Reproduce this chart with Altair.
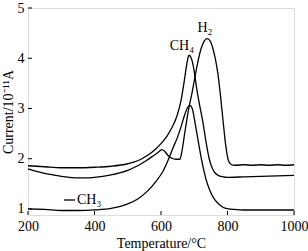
import altair as alt
import pandas as pd

# H2 series
h2_t = [200, 225, 250, 275, 300, 325, 350, 375, 400, 450, 500, 530, 555, 575, 590, 603, 612, 622, 633, 645, 657, 663, 670, 677, 685, 693, 700, 710, 720, 730, 738, 746, 755, 763, 771, 779, 787, 795, 802, 810, 820, 850, 875, 900, 925, 950, 975, 1000]
h2_v = [1.80, 1.75, 1.71, 1.68, 1.65, 1.63, 1.62, 1.62, 1.63, 1.68, 1.77, 1.86, 1.96, 2.05, 2.12, 2.18, 2.14, 2.06, 2.01, 1.99, 1.99, 2.15, 2.45, 2.75, 3.05, 3.30, 3.55, 3.90, 4.18, 4.34, 4.39, 4.36, 4.22, 4.00, 3.70, 3.25, 2.73, 2.25, 1.98, 1.89, 1.87, 1.88, 1.87, 1.88, 1.87, 1.88, 1.87, 1.88]

# CH4 series
ch4_t = [200, 250, 300, 350, 400, 450, 500, 530, 560, 585, 600, 618, 633, 648, 660, 670, 678, 684, 690, 697, 708, 718, 726, 735, 745, 755, 765, 775, 787, 800, 850, 900, 950, 1000]
ch4_v = [1.86, 1.84, 1.82, 1.82, 1.83, 1.85, 1.90, 1.96, 2.07, 2.20, 2.30, 2.45, 2.62, 2.85, 3.15, 3.55, 3.90, 4.06, 4.02, 3.85, 3.37, 3.00, 2.73, 2.35, 2.00, 1.80, 1.70, 1.66, 1.64, 1.63, 1.64, 1.65, 1.66, 1.67]

# CH3 series
ch3_t = [200, 250, 300, 350, 400, 450, 500, 530, 560, 585, 606, 620, 635, 648, 660, 670, 680, 687, 694, 702, 712, 722, 735, 747, 760, 777, 795, 820, 850, 900, 950, 1000]
ch3_v = [1.00, 0.99, 0.97, 0.97, 0.98, 1.01, 1.10, 1.20, 1.36, 1.55, 1.75, 1.95, 2.20, 2.40, 2.63, 2.85, 3.02, 3.06, 3.00, 2.73, 2.35, 1.98, 1.60, 1.37, 1.20, 1.08, 1.01, 0.99, 0.98, 0.98, 0.98, 0.98]

x_ticks = [200, 400, 600, 800, 1000]
y_ticks = [1, 2, 3, 4, 5]

peak_labels = ["CH₄", "H₂"]
peak_label_t = [663, 732]
peak_label_v = [4.25, 4.61]

legend_label = "CH₃"

rows = []
for name, ts, vs in [("H2", h2_t, h2_v), ("CH4", ch4_t, ch4_v), ("CH3", ch3_t, ch3_v)]:
    for t, v in zip(ts, vs):
        rows.append({"series": name, "T": t, "I": v})
df = pd.DataFrame(rows)

FONT = "Liberation Serif"
W, H = 266, 207
xs = alt.Scale(domain=[200, 1000], nice=False)
ys = alt.Scale(domain=[0.88, 5], nice=False)

lines = alt.Chart(df).mark_line(color="black", strokeWidth=1.3, interpolate="monotone").encode(
    x=alt.X("T:Q", scale=xs, axis=alt.Axis(values=x_ticks, format="d", ticks=False, domain=False, grid=False,
                                            labelFont=FONT, labelFontSize=14, labelColor="black",
                                            labelPadding=4, title="Temperature/°C", titleFont=FONT,
                                            titleFontSize=14, titleFontWeight="normal", titleColor="black",
                                            titlePadding=3, labelFlush=False, labelOverlap=False)),
    y=alt.Y("I:Q", scale=ys, axis=alt.Axis(values=y_ticks, format="d", ticks=False, domain=False, grid=False,
                                            labelFont=FONT, labelFontSize=14, labelColor="black",
                                            labelPadding=4, title="Current/10⁻¹¹A", titleFont=FONT,
                                            titleFontSize=14, titleFontWeight="normal", titleColor="black",
                                            titlePadding=2, labelFlush=False)),
    detail="series:N",
)

xt = alt.Chart(pd.DataFrame({"T": x_ticks})).mark_rule(color="black", strokeWidth=1).encode(
    x=alt.X("T:Q", scale=xs), y=alt.value(H), y2=alt.value(H - 4))
yt = alt.Chart(pd.DataFrame({"I": y_ticks})).mark_rule(color="black", strokeWidth=1).encode(
    y=alt.Y("I:Q", scale=ys), x=alt.value(0), x2=alt.value(4))

labels = alt.Chart(pd.DataFrame({"T": peak_label_t, "I": peak_label_v, "txt": peak_labels})).mark_text(
    font=FONT, fontSize=14, color="black").encode(
    x=alt.X("T:Q", scale=xs), y=alt.Y("I:Q", scale=ys), text="txt:N")

leg_line = alt.Chart(pd.DataFrame({"a": [0]})).mark_rule(color="black", strokeWidth=1.3).encode(
    x=alt.value(36), x2=alt.value(47), y=alt.value(192))
leg_text = alt.Chart(pd.DataFrame({"txt": [legend_label]})).mark_text(
    font=FONT, fontSize=14, color="black", align="left", baseline="middle").encode(
    x=alt.value(49), y=alt.value(192), text="txt:N")

chart = alt.layer(lines, xt, yt, labels, leg_line, leg_text).properties(
    width=W, height=H,
    autosize=alt.AutoSizeParams(type="none"),
    padding={"left": 28, "top": 8, "right": 14, "bottom": 36},
).configure_view(stroke="black", strokeWidth=1.2).configure(background="white")

chart.save("out.html", embed_options={"renderer": "svg", "actions": False})
